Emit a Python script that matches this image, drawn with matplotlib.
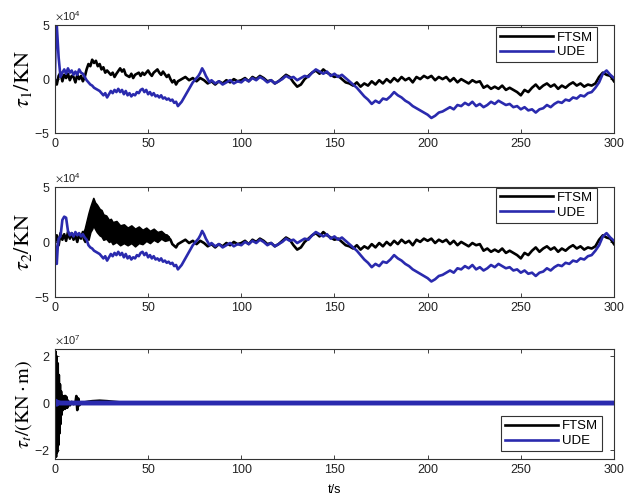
import matplotlib
matplotlib.use("Agg")
import matplotlib.pyplot as plt
from matplotlib.ticker import ScalarFormatter
import numpy as np

# ---------------- data (values in units of the axis multiplier) ----------------
# tau_1 FTSM (x1e4)
tau1_ftsm_t = [0,1,2,3,4,5,6,7,8,9,10,11,12,13,14,15,16,17,18,19,20,21,22,23,24,25,26,27,28,30,31,32,33,35,36,37,38,40,41,42,43,45,46,47,48,50,51,52,53,55,56,57,58,60,61,62,63,64,65,66,68,70,72,74,76,78]
tau1_ftsm_v = [0,-0.5,0.3,0.6,-0.2,0.4,0.1,0.5,-0.1,0.3,0.2,-0.3,0.4,0.0,0.3,-0.2,0.2,0.9,1.4,1.2,1.8,1.5,1.7,1.2,1.4,0.9,1.1,0.6,0.8,0.4,0.6,0.2,0.5,1.0,0.7,0.9,0.4,0.2,0.5,0.1,0.4,0.6,0.3,0.6,0.4,0.8,0.5,0.3,0.6,0.9,0.6,0.4,0.7,0.2,0.4,0.0,-0.3,-0.1,-0.5,-0.2,0.0,0.2,-0.1,0.1,-0.2,0.1]
# tau_2 FTSM (x1e4), centre line
tau2_ftsm_t = [0,1,2,3,4,5,6,7,8,9,10,11,12,13,14,15,16,17,18,19,20,21,22,23,24,25,26,27,28,29,30,31,32,33,34,35,36,37,38,39,40,41,42,43,44,45,46,47,48,49,50,51,52,53,54,55,56,57,58,60,62,63,65,66,68,70,72,74,76,78]
tau2_ftsm_v = [0.0,0.6,-0.3,0.8,0.2,0.7,0.1,0.9,0.3,0.8,0.2,0.6,0.0,0.7,0.3,0.9,0.4,1.2,1.9,2.3,2.6,2.5,2.3,2.1,1.8,1.6,1.5,1.3,1.2,1.0,0.9,0.8,0.7,0.7,0.6,0.5,0.5,0.4,0.5,0.3,0.4,0.3,0.5,0.4,0.6,0.5,0.7,0.5,0.6,0.5,0.6,0.5,0.6,0.5,0.7,0.8,0.6,0.7,0.3,0.6,0.2,-0.2,-0.5,-0.2,0.0,0.2,-0.1,0.1,-0.2,0.1]
# tau_2 FTSM high-frequency band envelope (x1e4)
tau2_band_t  = [15,16,17,18,19,20,20.6,21.5,22.5,24,25,26,27.5,29,30,31,33,35,37,39,41,43,45,47,49,51,53,55,57,59,61]
tau2_band_hi = [0.8,1.2,1.9,2.6,3.2,3.7,4.0,3.6,3.4,3.0,2.9,2.5,2.4,2.0,2.1,1.8,1.9,1.5,1.6,1.3,1.5,1.2,1.4,1.1,1.3,1.0,1.2,0.9,1.0,0.7,0.5]
tau2_band_lo = [0.3,0.0,0.4,0.2,0.9,1.2,1.5,1.2,0.9,0.6,0.5,0.2,0.3,0.0,0.1,-0.2,0.0,-0.3,-0.1,-0.3,-0.1,-0.4,-0.1,-0.2,0.1,-0.1,0.2,0.0,0.3,0.1,0.2]
# FTSM tail shared by tau_1 and tau_2 (x1e4)
ftsm_tail_t = [80,82,84,86,88,90,92,94,96,98,100,102,104,106,108,110,112,114,116,118,120,122,124,126,128,130,132,134,136,138,140,142,144,146,148,150,152,154,156,158,160,162,164,166,168,170,172,174,176,178,180,182,184,186,188,190,192,194,196,198,200,202,204,206,208,210,212,214,216,218,220,222,224,226,228,230,232,234,236,238,240,242,244,246,248,250,252,254,256,258,260,262,264,266,268,270,272,274,276,278,280,282,284,286,288,290,292,294,296,298,300]
ftsm_tail_v = [-0.1,-0.4,-0.2,-0.5,-0.2,-0.4,-0.1,-0.3,0.0,-0.2,-0.1,0.1,-0.2,0.2,0.0,0.3,0.1,-0.2,-0.1,-0.4,-0.2,0.1,0.4,0.2,-0.3,-0.7,-0.5,0.0,0.3,0.6,0.8,0.5,0.9,0.6,0.4,0.2,0.3,0.0,-0.3,-0.4,-0.6,-0.3,-0.7,-0.4,-0.6,-0.2,-0.5,-0.1,-0.4,0.0,-0.3,0.1,-0.2,0.2,-0.1,0.1,-0.3,0.2,0.0,0.3,0.1,0.3,-0.1,0.2,0.0,0.2,-0.2,0.1,-0.3,0.0,-0.2,-0.4,-0.1,-0.3,-0.2,-0.8,-0.6,-0.9,-0.7,-0.9,-0.6,-1.0,-0.8,-1.0,-1.2,-1.5,-1.0,-1.2,-0.8,-0.5,-0.9,-0.6,-0.4,-0.7,-0.5,-0.9,-0.6,-0.8,-0.5,-0.3,-0.6,-0.4,-0.7,-0.5,-0.6,-0.4,0.2,0.6,0.4,0.3,-0.2]

# UDE heads (x1e4)
tau1_ude_t = [0,0.5,1,2,3,4,5,6,7,8,9,10,11,12,13,14,15,16,17]
tau1_ude_v = [0,4.9,5.0,2.0,0.2,0.6,0.9,0.5,1.0,0.6,0.8,0.4,0.7,0.4,0.9,0.6,0.5,0.2,-0.1]
tau2_ude_t = [0,0.5,1,1.5,2,3,4,5,6,7,8,9,10,11,12,13,14,15,16,17]
tau2_ude_v = [0,-1.5,-2.0,-0.5,0.3,0.5,2.0,2.3,2.2,1.0,0.6,0.8,0.5,0.9,0.6,0.8,0.5,0.7,0.4,0.2]
# UDE tail shared by tau_1 and tau_2 (x1e4)
ude_tail_t = [18,19,20,21,22,23,24,25,26,27,28,29,30,31,32,33,34,35,36,37,38,39,40,41,42,43,44,45,46,47,48,49,50,51,52,53,54,55,56,57,58,59,60,61,62,63,64,65,66,67,68,69,70,71,72,73,74,75,76,77,78,79,80,81,82,83,84,86,88,90,92,94,96,98,100,102,104,106,108,110,112,114,116,118,120,122,124,126,128,130,132,134,136,138,140,142,144,146,148,150,152,154,156,158,160,162,164,166,168,170,172,174,176,178,180,182,184,186,188,190,192,194,196,198,200,202,204,206,208,210,212,214,216,218,220,222,224,226,228,230,232,234,236,238,240,242,244,246,248,250,252,254,256,258,260,262,264,266,268,270,272,274,276,278,280,282,284,286,288,290,292,294,296,298,300]
ude_tail_v = [-0.3,-0.5,-0.6,-0.8,-0.9,-1.0,-1.1,-1.3,-1.5,-1.3,-1.7,-1.4,-1.1,-1.3,-1.0,-1.2,-0.9,-1.2,-1.0,-1.4,-1.1,-1.5,-1.3,-1.6,-1.4,-1.5,-1.2,-1.3,-1.0,-0.9,-1.2,-1.0,-1.4,-1.2,-1.5,-1.3,-1.6,-1.5,-1.7,-1.5,-1.8,-1.7,-1.9,-1.8,-2.0,-1.9,-2.2,-2.1,-2.5,-2.3,-2.1,-1.8,-1.5,-1.2,-0.9,-0.6,-0.3,-0.1,0.1,0.3,0.6,1.0,0.7,0.3,0.0,-0.3,-0.1,-0.4,-0.2,-0.5,-0.3,-0.1,-0.4,-0.2,-0.3,0.0,-0.2,0.1,-0.1,0.2,0.0,-0.3,-0.1,-0.4,-0.2,0.0,0.3,0.1,0.2,-0.1,0.1,0.3,0.2,0.6,0.9,0.7,0.5,0.7,0.3,0.5,0.2,0.4,0.1,-0.2,-0.5,-0.8,-1.2,-1.6,-1.9,-2.3,-2.0,-2.2,-1.8,-1.9,-1.6,-1.2,-1.5,-1.7,-2.0,-2.2,-2.5,-2.7,-2.9,-3.1,-3.3,-3.6,-3.4,-3.1,-3.0,-2.8,-2.6,-2.8,-2.4,-2.5,-2.2,-2.4,-2.1,-2.5,-2.3,-2.6,-2.4,-2.1,-2.3,-2.0,-2.2,-2.4,-2.3,-2.6,-2.5,-2.8,-2.6,-2.9,-2.8,-3.1,-2.8,-2.7,-2.4,-2.6,-2.3,-2.1,-2.2,-1.9,-2.0,-1.7,-1.8,-1.5,-1.6,-1.3,-1.2,-0.8,-0.3,0.5,0.8,0.4,0.1]

# tau_t (x1e7)
taut_ftsm_t = [0,0.3,0.6,0.9,1.2,1.5,1.8,2.1,2.4,2.7,3.0,3.3,3.6,3.9,4.2,4.5,4.8,5.1,5.4,5.7,6.0,6.3,6.6,7,8,9,10,11,11.5,12,12.5,13,14,16,18,20,24,28,32,36,40,300]
taut_ftsm_v = [0,2.2,-2.3,2.0,-2.1,1.7,-1.8,1.2,-1.3,0.8,-0.9,0.5,-0.5,0.3,-0.3,0.25,-0.2,0.3,-0.25,0.3,-0.2,0.25,-0.2,0.1,-0.1,0.05,-0.05,0.0,0.3,-0.3,0.2,-0.1,0.0,0.03,0.06,0.08,0.1,0.08,0.05,0.02,0.0,0.0]
taut_ude_t = [0,0.5,1,2,3,300]
taut_ude_v = [0,0.08,-0.05,0.02,0,0]

series_labels = ["FTSM", "UDE"]
x_ticks = [0, 50, 100, 150, 200, 250, 300]

# ---------------- plotting ----------------
plt.rcParams['font.family'] = ['Liberation Sans', 'DejaVu Sans']
plt.rcParams['mathtext.fontset'] = 'stix'

BLACK = '#000000'
BLUE = '#2a2aae'

fig = plt.figure(figsize=(6.24, 5.04), dpi=100)
ax1 = fig.add_axes([0.088, 0.736, 0.896, 0.214])
ax2 = fig.add_axes([0.088, 0.411, 0.896, 0.218])
ax3 = fig.add_axes([0.088, 0.089, 0.896, 0.218])

s4 = 1e4
s7 = 1e7
lw = 1.9

ax1.plot(np.array(tau1_ftsm_t + ftsm_tail_t), np.array(tau1_ftsm_v + ftsm_tail_v) * s4, color=BLACK, lw=lw, label=series_labels[0])
ax1.plot(np.array(tau1_ude_t + ude_tail_t), np.array(tau1_ude_v + ude_tail_v) * s4, color=BLUE, lw=lw, label=series_labels[1])

ax2.fill_between(np.array(tau2_band_t), np.array(tau2_band_lo) * s4, np.array(tau2_band_hi) * s4,
                 color=BLACK, lw=1.2, edgecolor=BLACK)
ax2.plot(np.array(tau2_ftsm_t + ftsm_tail_t), np.array(tau2_ftsm_v + ftsm_tail_v) * s4, color=BLACK, lw=lw, label=series_labels[0])
ax2.plot(np.array(tau2_ude_t + ude_tail_t), np.array(tau2_ude_v + ude_tail_v) * s4, color=BLUE, lw=lw, label=series_labels[1])

ax3.plot(np.array(taut_ftsm_t), np.array(taut_ftsm_v) * s7, color=BLACK, lw=lw, label=series_labels[0])
ax3.plot(np.array(taut_ude_t), np.array(taut_ude_v) * s7, color=BLUE, lw=3.5, label=series_labels[1])

for ax in (ax1, ax2):
    ax.set_ylim(-5e4, 5e4)
    ax.set_yticks([-5e4, 0, 5e4])
ax3.set_ylim(-2.4e7, 2.3e7)
ax3.set_yticks([-2e7, 0, 2e7])

for ax in (ax1, ax2, ax3):
    ax.set_xlim(0, 300)
    ax.set_xticks(x_ticks)
    fmt = ScalarFormatter(useMathText=True)
    fmt.set_powerlimits((0, 0))
    ax.yaxis.set_major_formatter(fmt)
    ax.yaxis.get_offset_text().set_fontsize(8)
    ax.yaxis.get_offset_text().set_color('#444444')
    ax.tick_params(direction='in', top=True, right=True, labelsize=9, length=3, width=0.6, colors='#222222')
    for sp in ax.spines.values():
        sp.set_linewidth(0.8)
        sp.set_color('#333333')

ax1.set_ylabel(r'$\tau_1/\mathrm{KN}$', fontsize=16, labelpad=0)
ax2.set_ylabel(r'$\tau_2/\mathrm{KN}$', fontsize=16, labelpad=0)
ax3.set_ylabel(r'$\tau_t/(\mathrm{KN\cdot m})$', fontsize=14.5, labelpad=0)
ax3.set_xlabel('t/s', fontsize=9, labelpad=6)

leg_kw = dict(fontsize=9.5, handlelength=4.0, handletextpad=0.3, borderpad=0.3,
              labelspacing=0.2, fancybox=False, framealpha=1, edgecolor='#333333',
              borderaxespad=0)
l1 = ax1.legend(loc='upper right', bbox_to_anchor=(0.97, 0.98), **leg_kw)
l2 = ax2.legend(loc='upper right', bbox_to_anchor=(0.97, 0.995), **leg_kw)
l3 = ax3.legend(loc='lower right', bbox_to_anchor=(0.978, 0.073), **leg_kw)
for l in (l1, l2, l3):
    l.get_frame().set_linewidth(0.8)
    for h in l.get_lines():
        h.set_linewidth(1.9)

fig.savefig('out.png', dpi=100)
